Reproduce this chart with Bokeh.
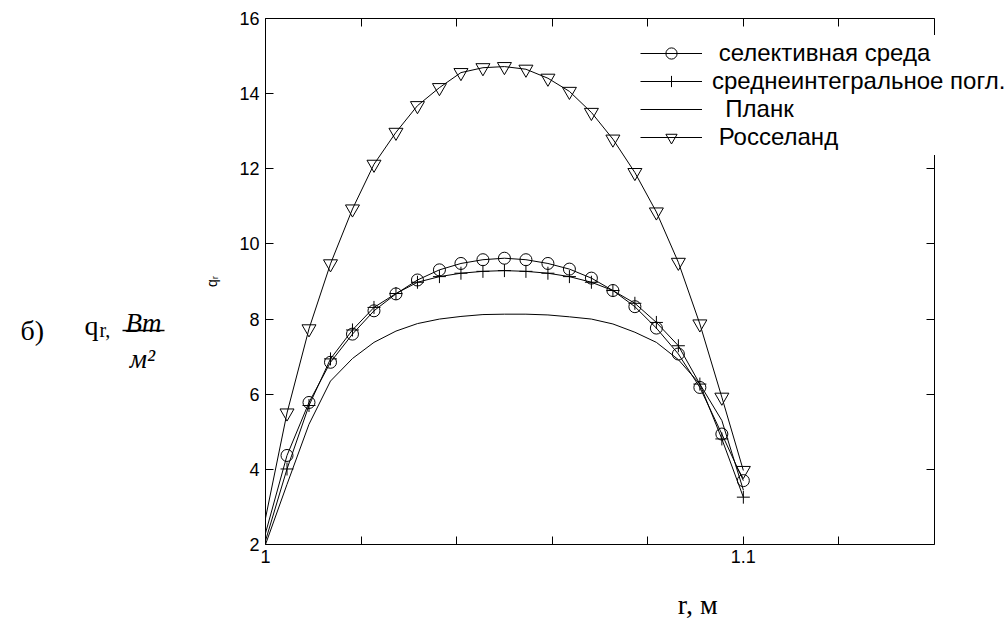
from bokeh.plotting import figure
from bokeh.layouts import row, column
from bokeh.models import (FixedTicker, LinearAxis, Range1d, Legend, LegendItem, Label)
from bokeh.embed import file_html
from bokeh.resources import INLINE

# ---- data ----
r = [1.0000, 1.0045, 1.0091, 1.0136, 1.0182, 1.0227, 1.0273, 1.0318, 1.0364,
     1.0409, 1.0455, 1.0500, 1.0545, 1.0591, 1.0636, 1.0682, 1.0727, 1.0773,
     1.0818, 1.0864, 1.0909, 1.0955, 1.1000]
q_selective = [2.30, 4.37, 5.78, 6.85, 7.60, 8.22, 8.67, 9.04, 9.31, 9.48, 9.58,
               9.62, 9.58, 9.48, 9.33, 9.09, 8.76, 8.33, 7.76, 7.07, 6.18, 4.94, 3.70]
q_mean = [2.10, 4.01, 5.70, 6.94, 7.71, 8.31, 8.68, 8.98, 9.13, 9.22, 9.27,
          9.29, 9.27, 9.22, 9.13, 8.98, 8.76, 8.42, 7.91, 7.29, 6.27, 4.81, 3.26]
q_planck = [2.00, 3.60, 5.20, 6.35, 6.95, 7.38, 7.68, 7.88, 8.00, 8.07, 8.12,
            8.13, 8.13, 8.11, 8.06, 8.00, 7.87, 7.65, 7.38, 6.92, 6.27, 5.30, 3.45]
q_rosseland = [2.70, 5.50, 7.74, 9.47, 10.93, 12.12, 12.97, 13.68, 14.16, 14.56,
               14.69, 14.72, 14.65, 14.41, 14.06, 13.50, 12.79, 11.90, 10.85,
               9.51, 7.87, 5.92, 3.97]
series_labels = ["\u00a0селективная среда", "среднеинтегральное погл.",
                 "\u00a0\u00a0Планк", "\u00a0Росселанд"]
x_ticks = [1.0, 1.02, 1.04, 1.06, 1.08, 1.1, 1.12, 1.14]
x_tick_labels = {1.0: "1", 1.02: "", 1.04: "", 1.06: "", 1.08: "", 1.1: "1.1",
                 1.12: "", 1.14: ""}
y_ticks = [2, 4, 6, 8, 10, 12, 14, 16]
X_MIN, X_MAX, Y_MIN, Y_MAX = 1.0, 1.14, 2, 16

# ---- layout (canvas pixels) ----
W, H = 1004, 623
FL, FR, FT, FB = 265, 934, 18, 544      # visible plot box
LW = 190                                # left text strip
MH = 574                                # height of main figure
MW = W - LW
px_per_x = (FR - FL) / (X_MAX - X_MIN)
x_end = X_MAX + (W - FR) / px_per_x     # frame runs to the right edge

def blank_fig(w, h, xr, yr):
    f = figure(width=w, height=h, output_backend="svg", toolbar_location=None,
               x_range=Range1d(*xr), y_range=Range1d(*yr),
               x_axis_type=None, y_axis_type=None, min_border=0)
    f.grid.visible = False
    f.outline_line_color = None
    f.background_fill_color = "white"
    f.border_fill_color = "white"
    return f

# ---- main plot ----
p = figure(width=MW, height=MH, output_backend="svg", toolbar_location=None,
           x_range=Range1d(X_MIN, x_end), y_range=Range1d(Y_MIN, Y_MAX),
           min_border_left=FL - LW, min_border_right=0,
           min_border_top=FT, min_border_bottom=MH - FB)
p.grid.visible = False
p.background_fill_color = "white"
p.border_fill_color = "white"
p.outline_line_color = None

def style_axis(ax, labels=True, tin=8, tout=0):
    ax.axis_line_color = "black"
    ax.major_tick_line_color = "black"
    ax.minor_tick_line_color = None
    ax.major_tick_in = tin
    ax.major_tick_out = tout
    ax.major_label_text_font = "Liberation Sans"
    ax.major_label_text_color = "black"
    if labels:
        ax.major_label_text_font_size = "18px"
        ax.major_label_standoff = 5
    else:
        ax.major_label_text_font_size = "0px"
        ax.major_label_standoff = 0

xa = p.xaxis[0]
xa.ticker = FixedTicker(ticks=x_ticks)
xa.major_label_overrides = x_tick_labels
xa.bounds = (X_MIN, X_MAX)
style_axis(xa)

ya = p.yaxis[0]
ya.ticker = FixedTicker(ticks=y_ticks)
style_axis(ya)
ya.major_label_standoff = 6
ya.axis_label = "qᵣ"
ya.axis_label_text_font = "Liberation Sans"
ya.axis_label_text_font_size = "14px"
ya.axis_label_text_font_style = "normal"
ya.axis_label_text_color = "black"
ya.axis_label_standoff = 16

top = LinearAxis(ticker=FixedTicker(ticks=x_ticks), bounds=(X_MIN, X_MAX))
style_axis(top, labels=False)
top.major_label_overrides = {t: "" for t in x_ticks}
p.add_layout(top, "above")

# right edge of the box, ticks pointing into the box
right = LinearAxis(ticker=FixedTicker(ticks=y_ticks), fixed_location=X_MAX)
style_axis(right, labels=False, tin=0, tout=8)
right.major_label_overrides = {t: "" for t in y_ticks}
p.add_layout(right, "left")

k = dict(line_color="black", line_width=1)
l1 = p.line(r, q_selective, **k)
m1 = p.scatter(r[1:], q_selective[1:], marker="circle", size=12,
               fill_color=None, line_color="black", line_width=1)
l2 = p.line(r, q_mean, **k)
m2 = p.scatter(r[1:], q_mean[1:], marker="cross", size=13,
               line_color="black", line_width=1)
l3 = p.line(r, q_planck, **k)
l4 = p.line(r, q_rosseland, **k)
m4 = p.scatter(r[1:], q_rosseland[1:], marker="inverted_triangle", size=14,
               fill_color=None, line_color="black", line_width=1)

leg_pad = 4
row_h = 28
leg_h = 2 * leg_pad + 4 * row_h
legend = Legend(items=[
    LegendItem(label=series_labels[0], renderers=[l1, m1]),
    LegendItem(label=series_labels[1], renderers=[l2, m2]),
    LegendItem(label=series_labels[2], renderers=[l3]),
    LegendItem(label=series_labels[3], renderers=[l4, m4]),
], location=(640 - leg_pad - FL, FB - (35 + leg_h)))
legend.glyph_width = 62
legend.glyph_height = row_h
legend.label_height = row_h
legend.spacing = 0
legend.padding = leg_pad
legend.margin = 0
legend.label_standoff = 10
legend.label_text_font = "Liberation Sans"
legend.label_text_font_size = "24px"
legend.label_text_color = "black"
legend.background_fill_color = "white"
legend.background_fill_alpha = 1.0
legend.border_line_alpha = 0
p.add_layout(legend)

# ---- left strip with the quantity name ----
left = blank_fig(LW, H, (0, LW), (H, 0))

def lab(f, text, x, y, size, style="normal", align="left", baseline="alphabetic"):
    f.add_layout(Label(x=x, y=y, text=text, text_font="Liberation Serif",
                       text_font_size=size, text_font_style=style,
                       text_color="black", text_align=align,
                       text_baseline=baseline))

lab(left, "б)", 20, 330, "28px")
lab(left, "q", 84, 325, "28px")
lab(left, "r,", 99, 329, "20px")
lab(left, "Bm", 143, 322, "27px", style="italic", align="center")
left.segment(x0=[122], y0=[330], x1=[164], y1=[330], line_color="black",
             line_width=1.5)
lab(left, "м²", 142, 358, "27px", style="italic", align="center")

# ---- bottom strip with the axis name ----
bottom = blank_fig(MW, H - MH, (LW, W), (H, MH))
lab(bottom, "r, м", 666, 604, "28px", align="center")

layout = row(left, column(p, bottom))
open("out.html", "w").write(file_html(layout, INLINE))
